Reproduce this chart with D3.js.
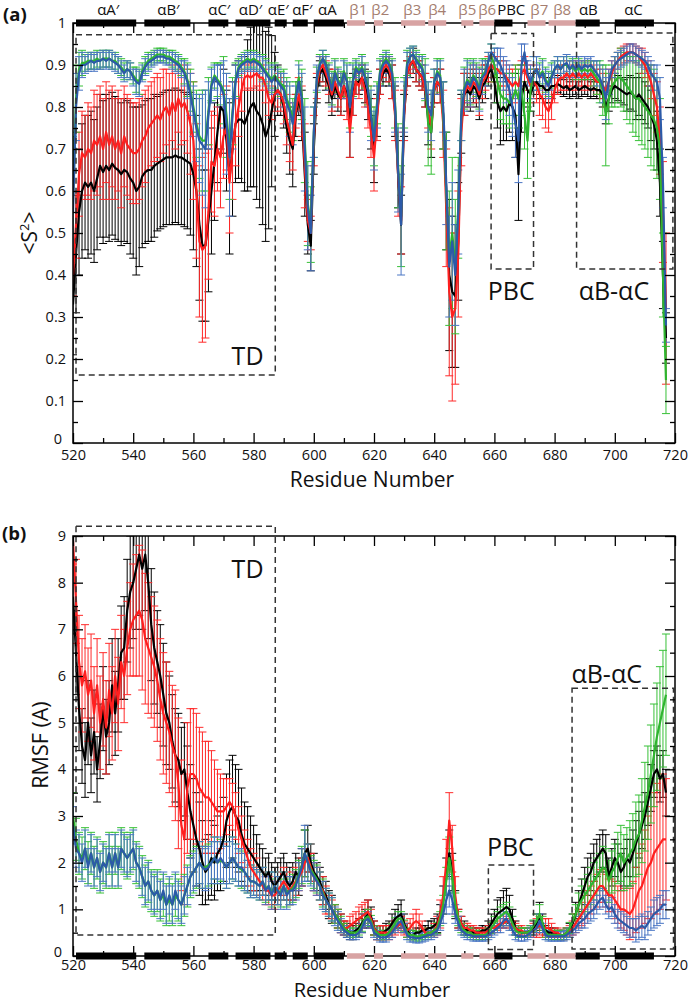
<!DOCTYPE html>
<html><head><meta charset="utf-8">
<script src="https://cdn.jsdelivr.net/npm/d3@7"></script>
<style>body{margin:0;background:#fff}svg{display:block;font-family:'Open Sans',sans-serif}</style>
</head><body><svg id="c" width="693" height="1002"></svg>
<script>
// ---------------- DATA ----------------
const residues = d3.range(520, 718);
const residueTicks = [520,540,560,580,600,620,640,660,680,700,720];
const residueMinorTicks = [530,550,570,590,610,630,650,670,690,710];
const s2Ticks = [0,0.1,0.2,0.3,0.4,0.5,0.6,0.7,0.8,0.9,1];
const s2MinorTicks = [0.05,0.15,0.25,0.35,0.45,0.55,0.65,0.75,0.85,0.95];
const rmsfTicks = [0,1,2,3,4,5,6,7,8,9];
const rmsfMinorTicks = [0.5,1.5,2.5,3.5,4.5,5.5,6.5,7.5,8.5];

// secondary structure
const ssNames = ["αA′","αB′","αC′","αD′","αE′","αF′","αA","β1","β2","β3","β4","β5","β6","PBC","β7","β8","αB","αC"];
const ssStart = [521,543.7,565,574,587,593,600,611,620,629,638,649,655,660,671,678,687,700];
const ssEnd   = [541,559,571.6,585.6,591,598,610,617,623,637,644,653,660,666,677,687,695,713];
const ssType  = ["h","h","h","h","h","h","h","b","b","b","b","b","b","h","b","b","h","h"];
const ssLabelAt = [531.7,551.7,568.6,579,588.2,596.2,604.5,614.8,622.1,632.7,641,651,657.6,665.6,674.9,682.5,691.2,706.2];

// dashed region boxes [residue from, residue to, value low, value high] and label anchors
const boxNames = ["TD","PBC","αB-αC"];
const boxesA = [[521,587.2,0.162,0.972],[658.9,673,0.414,0.975],[687.3,719.3,0.414,0.976]];
const boxLabelA = [[583.3,0.186,"end"],[665.6,0.34,"middle"],[699.7,0.34,"middle"]];
const boxesB = [[521,587.2,0.45,9.21],[658,673,0.14,1.95],[685.8,719.5,0.15,5.74]];
const boxLabelB = [[578,8.1,"middle"],[665.3,2.14,"middle"],[697.3,5.85,"middle"]];

// ---- panel (a): <S2> ----
const s2Black = [
0.33,0.45,0.55,0.60,0.62,0.61,0.62,0.60,0.63,0.66,
0.645,0.66,0.65,0.665,0.655,0.65,0.64,0.65,0.645,0.63,
0.62,0.60,0.61,0.635,0.645,0.65,0.65,0.66,0.665,0.67,
0.675,0.68,0.68,0.68,0.685,0.68,0.68,0.675,0.67,0.665,
0.64,0.60,0.52,0.47,0.47,0.53,0.60,0.67,0.74,0.80,
0.79,0.72,0.63,0.70,0.76,0.77,0.77,0.76,0.78,0.80,
0.81,0.79,0.78,0.76,0.73,0.75,0.79,0.83,0.84,0.83,
0.80,0.75,0.72,0.70,0.78,0.82,0.78,0.64,0.52,0.47,
0.70,0.84,0.88,0.89,0.87,0.85,0.82,0.85,0.83,0.82,
0.85,0.83,0.76,0.83,0.86,0.86,0.87,0.85,0.82,0.76,
0.70,0.78,0.86,0.88,0.89,0.88,0.86,0.79,0.64,0.52,
0.78,0.88,0.90,0.91,0.89,0.88,0.87,0.84,0.77,0.74,
0.84,0.86,0.85,0.78,0.60,0.40,0.36,0.35,0.48,0.76,
0.83,0.84,0.83,0.85,0.84,0.82,0.85,0.86,0.88,0.89,
0.86,0.81,0.79,0.80,0.79,0.81,0.80,0.78,0.64,0.82,
0.86,0.84,0.83,0.85,0.86,0.85,0.85,0.84,0.84,0.85,
0.85,0.855,0.85,0.845,0.85,0.84,0.845,0.85,0.84,0.845,
0.85,0.845,0.84,0.845,0.84,0.84,0.83,0.80,0.82,0.84,
0.85,0.845,0.84,0.835,0.83,0.835,0.83,0.82,0.83,0.82,
0.81,0.80,0.78,0.76,0.72,0.62,0.40,0.25];
const s2BlackErr = [
0.12,0.14,0.15,0.16,0.16,0.17,0.17,0.17,0.17,0.17,
0.17,0.17,0.17,0.17,0.17,0.17,0.17,0.17,0.17,0.18,
0.18,0.20,0.19,0.17,0.17,0.17,0.17,0.17,0.16,0.16,
0.16,0.16,0.16,0.16,0.16,0.16,0.16,0.16,0.16,0.17,
0.18,0.18,0.18,0.18,0.18,0.17,0.15,0.14,0.12,0.10,
0.10,0.12,0.18,0.16,0.14,0.14,0.15,0.16,0.18,0.19,
0.20,0.21,0.22,0.24,0.25,0.24,0.18,0.10,0.06,0.05,
0.05,0.06,0.08,0.09,0.05,0.04,0.06,0.10,0.07,0.06,
0.06,0.03,0.03,0.03,0.03,0.04,0.04,0.03,0.04,0.04,
0.03,0.04,0.08,0.05,0.03,0.03,0.03,0.04,0.05,0.06,
0.08,0.05,0.03,0.03,0.03,0.03,0.04,0.06,0.08,0.07,
0.05,0.03,0.03,0.03,0.03,0.03,0.03,0.04,0.06,0.06,
0.03,0.03,0.04,0.08,0.14,0.18,0.18,0.17,0.14,0.07,
0.05,0.04,0.04,0.04,0.04,0.05,0.04,0.04,0.03,0.03,
0.05,0.06,0.08,0.08,0.07,0.07,0.08,0.10,0.11,0.08,
0.05,0.04,0.04,0.03,0.03,0.03,0.03,0.03,0.03,0.03,
0.02,0.02,0.02,0.02,0.02,0.02,0.02,0.02,0.02,0.02,
0.02,0.02,0.02,0.02,0.02,0.02,0.03,0.04,0.03,0.03,
0.03,0.03,0.03,0.03,0.04,0.04,0.04,0.05,0.05,0.05,
0.05,0.05,0.06,0.06,0.07,0.08,0.08,0.06];
const s2Red = [
0.40,0.52,0.64,0.69,0.68,0.70,0.69,0.72,0.71,0.73,
0.70,0.74,0.71,0.73,0.70,0.72,0.69,0.73,0.71,0.70,
0.69,0.69,0.70,0.72,0.73,0.75,0.76,0.77,0.78,0.77,
0.79,0.80,0.78,0.81,0.79,0.82,0.80,0.81,0.79,0.76,
0.72,0.60,0.48,0.46,0.47,0.55,0.67,0.66,0.70,0.68,
0.73,0.75,0.62,0.70,0.76,0.80,0.84,0.87,0.875,0.87,
0.875,0.88,0.87,0.87,0.85,0.82,0.81,0.83,0.84,0.83,
0.81,0.77,0.74,0.71,0.79,0.83,0.79,0.66,0.53,0.50,
0.72,0.85,0.89,0.90,0.88,0.86,0.83,0.86,0.84,0.82,
0.85,0.82,0.74,0.82,0.86,0.85,0.87,0.84,0.80,0.74,
0.68,0.77,0.86,0.89,0.90,0.89,0.86,0.78,0.64,0.53,
0.78,0.88,0.90,0.91,0.89,0.88,0.87,0.84,0.79,0.75,
0.84,0.86,0.85,0.76,0.56,0.36,0.30,0.32,0.45,0.74,
0.83,0.85,0.84,0.86,0.85,0.83,0.86,0.87,0.89,0.90,
0.89,0.89,0.88,0.88,0.87,0.86,0.85,0.86,0.85,0.88,
0.89,0.87,0.85,0.86,0.85,0.83,0.82,0.80,0.79,0.81,
0.84,0.86,0.87,0.87,0.88,0.87,0.88,0.87,0.88,0.87,
0.88,0.87,0.88,0.87,0.86,0.86,0.85,0.84,0.86,0.88,
0.90,0.91,0.92,0.925,0.93,0.93,0.93,0.925,0.92,0.91,
0.90,0.88,0.86,0.83,0.80,0.72,0.55,0.32];
const s2RedErr = [
0.05,0.08,0.10,0.10,0.10,0.11,0.11,0.12,0.12,0.12,
0.12,0.12,0.13,0.12,0.12,0.12,0.13,0.12,0.12,0.12,
0.12,0.12,0.12,0.11,0.11,0.10,0.10,0.10,0.10,0.10,
0.10,0.09,0.10,0.09,0.09,0.08,0.09,0.09,0.10,0.12,
0.14,0.16,0.18,0.22,0.22,0.16,0.12,0.12,0.10,0.12,
0.10,0.10,0.12,0.12,0.10,0.07,0.05,0.03,0.03,0.03,
0.03,0.03,0.03,0.03,0.04,0.04,0.04,0.04,0.04,0.04,
0.05,0.06,0.07,0.06,0.04,0.04,0.06,0.10,0.05,0.04,
0.06,0.03,0.03,0.02,0.03,0.03,0.04,0.03,0.04,0.04,
0.03,0.05,0.06,0.04,0.03,0.03,0.03,0.04,0.05,0.06,
0.08,0.05,0.03,0.02,0.02,0.03,0.04,0.06,0.10,0.08,
0.06,0.03,0.02,0.02,0.03,0.03,0.03,0.04,0.04,0.05,
0.03,0.03,0.04,0.08,0.14,0.20,0.20,0.18,0.15,0.08,
0.05,0.04,0.04,0.04,0.04,0.05,0.04,0.03,0.03,0.03,
0.03,0.03,0.03,0.03,0.03,0.03,0.04,0.04,0.04,0.03,
0.03,0.03,0.04,0.04,0.04,0.05,0.05,0.05,0.05,0.04,
0.03,0.03,0.03,0.03,0.03,0.03,0.03,0.03,0.03,0.03,
0.03,0.03,0.03,0.03,0.03,0.03,0.03,0.04,0.03,0.03,
0.02,0.02,0.02,0.02,0.02,0.02,0.02,0.02,0.02,0.03,
0.03,0.03,0.04,0.05,0.06,0.08,0.12,0.18];
const s2Green = [
0.58,0.82,0.89,0.905,0.905,0.91,0.91,0.91,0.915,0.91,
0.915,0.915,0.915,0.91,0.91,0.90,0.895,0.885,0.89,0.885,
0.875,0.865,0.86,0.885,0.90,0.91,0.915,0.92,0.925,0.925,
0.925,0.92,0.92,0.915,0.91,0.905,0.895,0.885,0.865,0.84,
0.80,0.76,0.73,0.72,0.72,0.79,0.855,0.875,0.865,0.855,
0.84,0.78,0.70,0.79,0.865,0.895,0.905,0.91,0.915,0.91,
0.915,0.91,0.905,0.895,0.885,0.875,0.865,0.875,0.865,0.855,
0.85,0.82,0.80,0.77,0.83,0.87,0.83,0.72,0.57,0.52,
0.74,0.865,0.905,0.915,0.905,0.875,0.845,0.885,0.865,0.855,
0.885,0.865,0.81,0.865,0.895,0.885,0.895,0.875,0.845,0.79,
0.73,0.81,0.885,0.905,0.915,0.905,0.885,0.81,0.66,0.54,
0.81,0.905,0.92,0.925,0.915,0.905,0.895,0.865,0.76,0.74,
0.86,0.885,0.875,0.78,0.60,0.44,0.50,0.42,0.56,0.78,
0.845,0.865,0.855,0.875,0.865,0.845,0.875,0.885,0.91,0.92,
0.90,0.86,0.83,0.82,0.82,0.81,0.82,0.84,0.82,0.84,
0.78,0.72,0.84,0.88,0.89,0.875,0.885,0.865,0.855,0.875,
0.89,0.90,0.89,0.90,0.90,0.89,0.895,0.885,0.895,0.885,
0.89,0.885,0.89,0.88,0.87,0.86,0.84,0.78,0.82,0.85,
0.86,0.87,0.87,0.86,0.85,0.84,0.83,0.82,0.82,0.81,
0.80,0.79,0.78,0.77,0.75,0.70,0.40,0.15];
const s2GreenErr = [
0.15,0.08,0.04,0.03,0.02,0.02,0.02,0.02,0.02,0.02,
0.02,0.02,0.02,0.02,0.02,0.02,0.02,0.02,0.02,0.02,
0.02,0.03,0.03,0.02,0.02,0.02,0.015,0.015,0.015,0.015,
0.015,0.015,0.015,0.02,0.02,0.02,0.02,0.03,0.04,0.05,
0.06,0.08,0.10,0.12,0.12,0.08,0.04,0.03,0.04,0.05,
0.08,0.10,0.12,0.08,0.04,0.02,0.02,0.02,0.02,0.02,
0.02,0.02,0.02,0.03,0.03,0.03,0.03,0.03,0.03,0.03,
0.04,0.05,0.06,0.05,0.03,0.04,0.06,0.10,0.10,0.09,
0.06,0.03,0.02,0.02,0.02,0.03,0.04,0.03,0.03,0.03,
0.03,0.04,0.06,0.04,0.02,0.02,0.03,0.03,0.04,0.06,
0.07,0.05,0.03,0.02,0.02,0.02,0.03,0.06,0.10,0.12,
0.06,0.03,0.02,0.02,0.02,0.02,0.03,0.05,0.10,0.10,
0.03,0.03,0.04,0.08,0.14,0.16,0.18,0.16,0.12,0.06,
0.05,0.05,0.05,0.04,0.04,0.05,0.04,0.03,0.02,0.03,
0.04,0.05,0.06,0.06,0.06,0.06,0.06,0.06,0.07,0.06,
0.08,0.09,0.05,0.04,0.03,0.03,0.03,0.03,0.03,0.03,
0.02,0.02,0.02,0.02,0.02,0.02,0.02,0.02,0.02,0.02,
0.02,0.02,0.02,0.03,0.04,0.05,0.06,0.12,0.06,0.05,
0.06,0.06,0.07,0.07,0.08,0.08,0.09,0.09,0.10,0.10,
0.10,0.11,0.12,0.12,0.12,0.12,0.10,0.08];
const s2Blue = [
0.55,0.80,0.88,0.90,0.90,0.905,0.91,0.905,0.91,0.91,
0.915,0.91,0.915,0.91,0.905,0.90,0.89,0.88,0.89,0.885,
0.87,0.86,0.855,0.88,0.895,0.905,0.91,0.915,0.92,0.92,
0.92,0.915,0.915,0.91,0.905,0.90,0.89,0.88,0.86,0.83,
0.79,0.75,0.72,0.71,0.70,0.78,0.85,0.87,0.86,0.85,
0.83,0.76,0.68,0.78,0.86,0.89,0.90,0.905,0.91,0.905,
0.91,0.905,0.90,0.89,0.88,0.87,0.86,0.87,0.86,0.85,
0.84,0.81,0.79,0.76,0.82,0.86,0.82,0.70,0.56,0.50,
0.74,0.87,0.90,0.915,0.90,0.87,0.84,0.88,0.86,0.85,
0.88,0.86,0.80,0.86,0.89,0.88,0.89,0.87,0.84,0.78,
0.72,0.80,0.88,0.90,0.91,0.90,0.88,0.80,0.65,0.52,
0.80,0.90,0.92,0.925,0.91,0.90,0.89,0.86,0.80,0.78,
0.86,0.88,0.87,0.80,0.62,0.42,0.48,0.40,0.55,0.78,
0.84,0.86,0.85,0.87,0.86,0.84,0.87,0.88,0.91,0.93,
0.92,0.91,0.90,0.88,0.86,0.84,0.80,0.76,0.72,0.90,
0.93,0.88,0.86,0.88,0.89,0.87,0.88,0.86,0.85,0.87,
0.89,0.90,0.89,0.90,0.905,0.89,0.90,0.89,0.90,0.89,
0.90,0.895,0.90,0.89,0.88,0.87,0.85,0.82,0.86,0.89,
0.90,0.91,0.915,0.92,0.925,0.93,0.93,0.925,0.92,0.915,
0.91,0.90,0.88,0.87,0.86,0.82,0.62,0.28];
const s2BlueErr = [
0.15,0.08,0.04,0.03,0.02,0.02,0.02,0.02,0.02,0.02,
0.02,0.02,0.02,0.02,0.02,0.02,0.02,0.02,0.02,0.02,
0.02,0.03,0.03,0.02,0.02,0.02,0.015,0.015,0.015,0.015,
0.015,0.015,0.015,0.02,0.02,0.02,0.02,0.03,0.04,0.05,
0.06,0.08,0.10,0.12,0.14,0.08,0.04,0.03,0.04,0.05,
0.08,0.12,0.14,0.08,0.04,0.02,0.02,0.02,0.02,0.02,
0.02,0.02,0.02,0.03,0.03,0.03,0.03,0.03,0.03,0.03,
0.04,0.05,0.06,0.05,0.03,0.04,0.06,0.10,0.10,0.09,
0.06,0.03,0.02,0.02,0.02,0.03,0.04,0.03,0.03,0.03,
0.03,0.04,0.06,0.04,0.02,0.02,0.03,0.03,0.04,0.06,
0.07,0.05,0.03,0.02,0.02,0.02,0.03,0.06,0.10,0.12,
0.06,0.03,0.02,0.02,0.02,0.02,0.03,0.04,0.06,0.06,
0.03,0.03,0.04,0.06,0.10,0.12,0.14,0.12,0.10,0.06,
0.05,0.05,0.05,0.04,0.04,0.05,0.04,0.03,0.02,0.02,
0.02,0.03,0.04,0.04,0.05,0.06,0.07,0.08,0.10,0.05,
0.02,0.03,0.04,0.04,0.03,0.03,0.03,0.03,0.03,0.03,
0.02,0.02,0.02,0.02,0.02,0.02,0.02,0.02,0.02,0.02,
0.02,0.02,0.02,0.02,0.03,0.03,0.04,0.05,0.03,0.02,
0.02,0.02,0.02,0.02,0.02,0.02,0.02,0.02,0.02,0.02,
0.02,0.02,0.03,0.03,0.04,0.05,0.06,0.04];

// ---- panel (b): RMSF ----
const rmsfBlack = [
7.7,6.5,5.3,4.5,4.2,5.0,4.3,4.8,4.0,4.6,
5.3,4.7,5.0,5.8,5.2,5.8,6.5,6.6,7.4,7.8,
8.0,8.3,8.6,8.3,8.6,8.0,7.1,6.6,6.3,6.0,
5.6,5.2,5.0,4.6,4.3,4.2,3.9,4.0,3.5,3.1,
2.8,2.5,2.3,2.0,1.8,1.9,2.1,2.0,2.2,2.3,
2.5,2.9,3.1,3.2,3.0,2.9,2.6,2.4,2.3,2.2,
2.1,2.0,1.9,1.8,1.7,1.8,1.6,1.5,1.6,1.7,
1.8,1.6,1.5,1.6,1.8,1.7,1.9,2.2,2.3,2.0,
1.8,1.7,1.6,1.4,1.3,1.1,1.0,0.9,0.8,0.7,
0.6,0.55,0.5,0.5,0.55,0.6,0.7,0.8,0.9,0.85,
0.6,0.5,0.5,0.5,0.55,0.6,0.7,0.8,0.85,0.9,
0.7,0.55,0.45,0.45,0.5,0.5,0.55,0.55,0.6,0.6,
0.65,0.7,0.9,1.2,1.7,2.2,1.8,1.1,0.8,0.7,
0.6,0.55,0.55,0.5,0.5,0.5,0.55,0.55,0.6,0.7,
0.8,0.9,0.95,1.0,1.05,1.0,0.8,0.6,0.55,0.5,
0.5,0.5,0.55,0.6,0.7,0.85,0.7,0.55,0.5,0.5,
0.5,0.45,0.45,0.45,0.5,0.55,0.7,0.9,1.1,1.3,
1.5,1.7,1.8,2.0,2.1,2.2,2.3,2.2,1.7,1.9,
2.1,2.0,1.8,1.9,2.1,2.0,2.2,2.4,2.6,2.8,
3.0,3.3,3.6,3.9,4.0,3.8,3.9,3.5];
const rmsfBlackErr = [
0.8,0.9,0.9,0.8,0.8,0.9,0.8,0.9,0.7,0.8,
0.9,0.8,0.9,1.0,0.9,1.0,1.0,1.1,1.1,1.2,
1.2,1.3,1.3,1.3,1.2,1.2,1.2,1.2,1.1,1.1,
1.1,1.1,1.0,1.0,1.0,1.0,1.0,1.0,1.0,1.0,
1.0,1.0,1.0,0.9,0.7,0.7,0.8,0.8,0.8,0.9,
0.9,1.0,1.1,1.1,1.1,1.1,1.0,0.9,0.9,0.8,
0.7,0.6,0.5,0.5,0.4,0.4,0.4,0.4,0.4,0.4,
0.4,0.4,0.4,0.4,0.4,0.4,0.4,0.5,0.5,0.4,
0.4,0.3,0.3,0.3,0.3,0.3,0.3,0.2,0.2,0.2,
0.15,0.15,0.15,0.15,0.15,0.2,0.2,0.2,0.3,0.2,
0.15,0.15,0.15,0.15,0.15,0.15,0.2,0.2,0.25,0.3,
0.2,0.15,0.1,0.1,0.1,0.1,0.1,0.1,0.15,0.15,
0.15,0.2,0.2,0.3,0.4,0.5,0.4,0.3,0.2,0.15,
0.15,0.1,0.1,0.1,0.1,0.1,0.1,0.1,0.15,0.2,
0.2,0.3,0.3,0.4,0.4,0.3,0.2,0.15,0.1,0.1,
0.1,0.1,0.1,0.15,0.2,0.3,0.2,0.1,0.1,0.1,
0.1,0.1,0.1,0.1,0.1,0.15,0.2,0.25,0.3,0.35,
0.4,0.4,0.4,0.4,0.4,0.4,0.4,0.4,0.4,0.4,
0.4,0.4,0.4,0.4,0.4,0.5,0.5,0.5,0.5,0.5,
0.5,0.5,0.5,0.5,0.5,0.5,0.5,0.5];
const rmsfRed = [
8.9,7.6,6.3,5.8,6.1,5.6,5.9,5.2,5.8,5.0,
5.5,4.9,5.7,5.2,6.0,5.4,6.3,6.0,6.6,7.0,
7.2,7.3,7.4,7.2,6.8,6.6,6.4,6.2,5.9,5.5,
5.2,5.0,4.8,4.5,4.3,3.7,2.8,2.5,3.6,3.9,
3.9,3.8,3.6,3.5,3.4,3.4,3.3,3.2,3.1,3.1,
3.1,3.2,3.3,3.2,3.0,2.7,2.5,2.3,2.1,1.9,
1.8,1.7,1.6,1.5,1.4,1.4,1.3,1.3,1.4,1.5,
1.6,1.5,1.4,1.5,1.6,1.7,1.8,2.0,2.1,1.9,
1.7,1.6,1.5,1.4,1.2,1.1,1.0,0.9,0.8,0.7,
0.6,0.6,0.65,0.7,0.75,0.8,0.85,0.9,0.95,0.8,
0.6,0.5,0.5,0.5,0.5,0.5,0.55,0.6,0.65,0.7,
0.6,0.55,0.6,0.7,0.75,0.7,0.6,0.5,0.5,0.5,
0.55,0.65,0.9,1.3,2.0,2.9,2.3,1.3,0.8,0.7,
0.6,0.6,0.55,0.55,0.5,0.5,0.5,0.5,0.55,0.6,
0.6,0.65,0.7,0.7,0.75,0.7,0.65,0.6,0.55,0.55,
0.5,0.5,0.5,0.55,0.6,0.65,0.6,0.6,0.6,0.55,
0.5,0.5,0.45,0.45,0.5,0.55,0.6,0.7,0.8,0.9,
1.0,1.1,1.2,1.3,1.4,1.5,1.5,1.4,1.3,1.3,
1.2,1.1,1.0,1.0,0.95,0.9,1.0,1.2,1.4,1.5,
1.7,1.9,2.0,2.2,2.3,2.4,2.5,2.5];
const rmsfRedErr = [
0.5,0.9,1.0,1.0,1.0,1.0,1.0,1.0,1.0,1.0,
1.0,1.0,1.0,1.0,1.0,1.0,1.0,1.0,1.0,1.0,
1.2,1.3,1.4,1.5,1.4,1.4,1.3,1.3,1.3,1.3,
1.3,1.3,1.3,1.3,1.4,1.4,1.4,1.4,1.4,1.4,
1.4,1.4,1.3,1.3,1.2,1.2,1.1,1.0,0.9,0.8,
0.7,0.6,0.5,0.5,0.5,0.5,0.5,0.4,0.4,0.4,
0.4,0.4,0.3,0.3,0.3,0.3,0.3,0.3,0.3,0.3,
0.3,0.3,0.3,0.3,0.3,0.3,0.3,0.3,0.3,0.3,
0.3,0.3,0.3,0.3,0.3,0.2,0.2,0.2,0.2,0.2,
0.15,0.15,0.2,0.2,0.2,0.25,0.25,0.25,0.25,0.2,
0.15,0.15,0.15,0.15,0.15,0.15,0.15,0.15,0.15,0.15,
0.15,0.15,0.2,0.2,0.25,0.2,0.15,0.1,0.1,0.1,
0.15,0.2,0.3,0.4,0.5,0.6,0.5,0.4,0.2,0.15,
0.1,0.1,0.1,0.1,0.1,0.1,0.1,0.1,0.1,0.1,
0.1,0.1,0.1,0.1,0.1,0.1,0.1,0.1,0.1,0.1,
0.1,0.1,0.1,0.15,0.2,0.2,0.2,0.2,0.2,0.15,
0.1,0.1,0.1,0.1,0.1,0.1,0.15,0.2,0.2,0.25,
0.3,0.3,0.3,0.3,0.35,0.35,0.35,0.35,0.35,0.35,
0.4,0.4,0.4,0.45,0.5,0.55,0.6,0.7,0.8,0.9,
1.0,1.1,1.2,1.3,1.4,1.4,1.4,1.3];
const rmsfGreen = [
3.0,2.5,2.2,2.1,2.3,2.0,2.2,1.9,2.1,1.8,
2.0,1.9,2.2,1.9,2.2,1.9,2.3,2.2,2.1,2.2,
2.3,2.0,1.9,1.7,1.5,1.6,1.4,1.3,1.4,1.2,
1.3,1.1,1.2,1.1,1.3,1.2,1.1,1.3,1.5,1.7,
1.8,1.9,2.0,1.9,1.9,1.95,2.0,2.1,2.0,2.05,
2.0,1.9,2.0,2.1,2.0,1.9,1.85,1.8,1.7,1.6,
1.6,1.55,1.5,1.6,1.45,1.5,1.35,1.5,1.4,1.35,
1.5,1.35,1.4,1.45,1.55,1.75,1.95,2.2,2.0,1.85,
1.75,1.65,1.5,1.35,1.2,1.1,1.0,0.9,0.8,0.7,
0.6,0.55,0.5,0.5,0.5,0.55,0.65,0.8,0.85,0.75,
0.55,0.5,0.45,0.45,0.45,0.5,0.6,0.7,0.8,0.8,
0.65,0.5,0.45,0.45,0.42,0.42,0.45,0.45,0.5,0.5,
0.55,0.6,0.8,1.1,1.6,2.1,1.7,1.1,0.8,0.6,
0.55,0.5,0.5,0.45,0.45,0.45,0.45,0.45,0.5,0.6,
0.7,0.8,0.85,0.9,0.95,0.85,0.7,0.55,0.5,0.5,
0.5,0.5,0.55,0.65,0.75,0.9,0.7,0.5,0.45,0.45,
0.45,0.45,0.45,0.45,0.5,0.6,0.75,0.9,1.1,1.2,
1.3,1.4,1.5,1.6,1.7,1.8,1.9,1.85,1.6,1.8,
1.9,2.1,2.2,2.0,2.1,2.2,2.3,2.5,2.6,2.9,
3.2,3.5,3.9,4.3,4.7,5.0,5.3,5.6];
const rmsfGreenErr = [
0.5,0.45,0.45,0.45,0.45,0.45,0.45,0.45,0.45,0.45,
0.45,0.45,0.45,0.45,0.45,0.45,0.45,0.45,0.45,0.45,
0.45,0.45,0.45,0.45,0.45,0.45,0.45,0.45,0.45,0.45,
0.45,0.45,0.45,0.45,0.45,0.45,0.45,0.45,0.45,0.45,
0.45,0.45,0.45,0.45,0.45,0.45,0.45,0.45,0.45,0.45,
0.45,0.45,0.45,0.45,0.4,0.4,0.4,0.4,0.35,0.35,
0.3,0.3,0.3,0.3,0.3,0.3,0.3,0.3,0.3,0.3,
0.3,0.3,0.3,0.3,0.3,0.3,0.4,0.5,0.4,0.3,
0.3,0.3,0.3,0.3,0.25,0.25,0.25,0.2,0.2,0.15,
0.1,0.1,0.1,0.1,0.1,0.1,0.12,0.15,0.15,0.12,
0.1,0.1,0.1,0.1,0.1,0.1,0.1,0.12,0.15,0.15,
0.12,0.1,0.1,0.1,0.1,0.1,0.1,0.1,0.1,0.1,
0.1,0.12,0.15,0.2,0.3,0.45,0.35,0.25,0.15,0.1,
0.1,0.1,0.1,0.1,0.1,0.1,0.1,0.1,0.1,0.12,
0.15,0.15,0.2,0.2,0.2,0.2,0.15,0.1,0.1,0.1,
0.1,0.1,0.1,0.12,0.15,0.2,0.15,0.1,0.1,0.1,
0.1,0.1,0.1,0.1,0.1,0.12,0.15,0.2,0.25,0.3,
0.35,0.35,0.4,0.4,0.4,0.4,0.45,0.45,0.45,0.45,
0.5,0.55,0.6,0.6,0.65,0.7,0.75,0.8,0.85,0.9,
0.95,1.0,1.05,1.1,1.15,1.2,1.25,1.3];
const rmsfBlue = [
2.8,2.3,2.2,2.0,2.3,1.9,2.2,1.9,2.1,1.8,
2.0,1.9,2.2,1.9,2.2,1.9,2.3,2.2,2.1,2.2,
2.3,2.0,1.9,1.7,1.5,1.6,1.4,1.3,1.4,1.2,
1.4,1.1,1.3,1.1,1.4,1.2,1.1,1.3,1.5,1.7,
1.8,1.9,2.0,1.9,1.85,1.9,2.0,2.1,2.0,2.1,
2.0,1.9,2.0,2.1,2.0,1.9,1.9,1.8,1.7,1.6,
1.6,1.55,1.5,1.6,1.4,1.5,1.3,1.5,1.4,1.3,
1.5,1.3,1.4,1.4,1.5,1.7,1.9,2.2,2.0,1.8,
1.7,1.6,1.5,1.3,1.2,1.1,1.0,0.85,0.75,0.65,
0.55,0.5,0.45,0.45,0.45,0.5,0.6,0.75,0.8,0.7,
0.5,0.45,0.4,0.4,0.4,0.45,0.5,0.6,0.7,0.75,
0.6,0.45,0.4,0.4,0.38,0.38,0.4,0.42,0.45,0.45,
0.5,0.55,0.7,0.9,1.2,1.4,1.2,0.9,0.7,0.55,
0.5,0.45,0.45,0.42,0.42,0.42,0.42,0.42,0.45,0.5,
0.55,0.6,0.65,0.75,0.8,0.7,0.55,0.45,0.42,0.42,
0.42,0.45,0.5,0.55,0.6,0.75,0.6,0.45,0.42,0.42,
0.42,0.42,0.42,0.42,0.45,0.5,0.55,0.6,0.7,0.75,
0.8,0.9,0.95,1.0,1.1,1.2,1.25,1.1,1.0,1.05,
0.9,0.8,0.75,0.7,0.65,0.6,0.6,0.55,0.6,0.65,
0.6,0.7,0.8,0.9,0.95,1.0,1.1,1.1];
const rmsfBlueErr = [
0.4,0.4,0.4,0.4,0.4,0.4,0.4,0.4,0.4,0.4,
0.4,0.4,0.4,0.4,0.4,0.4,0.4,0.4,0.4,0.4,
0.4,0.4,0.4,0.4,0.4,0.4,0.4,0.4,0.4,0.4,
0.4,0.4,0.4,0.4,0.4,0.4,0.4,0.4,0.4,0.4,
0.4,0.4,0.45,0.45,0.45,0.45,0.45,0.45,0.45,0.45,
0.45,0.45,0.45,0.45,0.4,0.4,0.4,0.4,0.35,0.35,
0.3,0.3,0.3,0.3,0.3,0.3,0.3,0.3,0.3,0.3,
0.3,0.3,0.3,0.3,0.3,0.3,0.4,0.6,0.4,0.3,
0.3,0.3,0.3,0.3,0.25,0.25,0.25,0.2,0.2,0.15,
0.1,0.1,0.1,0.1,0.1,0.1,0.1,0.15,0.15,0.1,
0.1,0.1,0.1,0.1,0.1,0.1,0.1,0.1,0.15,0.15,
0.1,0.1,0.1,0.1,0.1,0.1,0.1,0.1,0.1,0.1,
0.1,0.1,0.15,0.2,0.3,0.35,0.3,0.2,0.15,0.1,
0.1,0.1,0.1,0.1,0.1,0.1,0.1,0.1,0.1,0.1,
0.1,0.1,0.15,0.15,0.15,0.15,0.1,0.1,0.1,0.1,
0.1,0.1,0.1,0.1,0.1,0.15,0.1,0.1,0.1,0.1,
0.1,0.1,0.1,0.1,0.1,0.1,0.1,0.1,0.15,0.15,
0.2,0.2,0.2,0.2,0.2,0.2,0.2,0.2,0.2,0.2,
0.2,0.2,0.2,0.2,0.2,0.2,0.2,0.25,0.25,0.25,
0.25,0.25,0.25,0.3,0.3,0.3,0.3,0.3];

// ---------------- DRAWING ----------------
const svg = d3.select("#c");
const colors = {black:"#000000", red:"#ff1f1f", green:"#2fb52f", blue:"#2c5aa8"};
const errColors = {black:"#000000", red:"#ff2a2a", green:"#38c038", blue:"#4a76c4"};
const font = "'Open Sans', sans-serif";

function drawPanel(opt){
  const x = d3.scaleLinear().domain([520,720]).range([73,675]);
  const y = d3.scaleLinear().domain(opt.yDomain).range(opt.yRange);
  const g = svg.append("g");
  const clipId = "clip" + opt.id;
  svg.append("defs").append("clipPath").attr("id", clipId)
    .append("rect").attr("x",73).attr("y",opt.yRange[1]).attr("width",602).attr("height",opt.yRange[0]-opt.yRange[1]);

  const plot = g.append("g").attr("clip-path", `url(#${clipId})`);
  opt.series.forEach(s=>{
    const data = residues.map((r,i)=>({r, v:s.v[i], e:s.e[i]})).filter(d=>d.v!=null && d.e!=null);
    let p = "";
    const cap = 4;
    data.forEach(d=>{
      const X = x(d.r), Y0 = y(d.v-d.e), Y1 = y(d.v+d.e);
      p += `M${X},${Y0}V${Y1}M${X-cap},${Y0}H${X+cap}M${X-cap},${Y1}H${X+cap}`;
    });
    plot.append("path").attr("d",p).attr("fill","none").attr("stroke",errColors[s.c]).attr("stroke-width",1);
  });
  opt.series.forEach(s=>{
    const data = residues.map((r,i)=>({r, v:s.v[i]})).filter(d=>d.v!=null);
    plot.append("path").datum(data)
      .attr("d", d3.line().x(d=>x(d.r)).y(d=>y(d.v)))
      .attr("fill","none").attr("stroke",colors[s.c]).attr("stroke-width",2.2).attr("stroke-linejoin","round");
  });

  // dashed boxes
  opt.boxes.forEach((b,i)=>{
    g.append("rect").attr("x",x(b[0])).attr("y",y(b[3])).attr("width",x(b[1])-x(b[0])).attr("height",y(b[2])-y(b[3]))
      .attr("fill","none").attr("stroke","#333").attr("stroke-width",1.5).attr("stroke-dasharray","6,4");
    const L = opt.boxLabels[i];
    g.append("text").attr("x",x(L[0])).attr("y",y(L[1])).attr("text-anchor",L[2])
      .attr("font-family",font).attr("font-size",25).attr("fill","#111").text(boxNames[i]);
  });

  // axes
  const axStyle = sel => { sel.select(".domain").remove(); sel.selectAll("line").attr("stroke","#000").attr("stroke-width",1.3); sel.selectAll("text").attr("font-family",font).attr("font-size",14.5).attr("fill","#111"); };
  g.append("g").attr("transform",`translate(0,${opt.yRange[0]})`)
    .call(d3.axisBottom(x).tickValues(residueTicks).tickSize(-10).tickPadding(opt.xPad).tickFormat(d3.format("d"))).call(axStyle);
  g.append("g").attr("transform",`translate(0,${opt.yRange[0]})`)
    .call(d3.axisBottom(x).tickValues(residueMinorTicks).tickSize(-5).tickFormat("")).call(axStyle);
  g.append("g").attr("transform",`translate(0,${opt.yRange[1]})`)
    .call(d3.axisTop(x).tickValues(residueTicks).tickSize(-10).tickFormat("")).call(axStyle);
  g.append("g").attr("transform",`translate(0,${opt.yRange[1]})`)
    .call(d3.axisTop(x).tickValues(residueMinorTicks).tickSize(-5).tickFormat("")).call(axStyle);
  const yAx = g.append("g").attr("transform",`translate(73,0)`)
    .call(d3.axisLeft(y).tickValues(opt.yTicks).tickSize(-10).tickPadding(7).tickFormat(d3.format("~g"))).call(axStyle);
  // keep the corner "0" clear of the first residue label
  yAx.selectAll(".tick").filter(d=>d===0).select("text").attr("x",-11).attr("dy","0.05em");
  g.append("g").attr("transform",`translate(73,0)`)
    .call(d3.axisLeft(y).tickValues(opt.yMinor).tickSize(-5).tickFormat("")).call(axStyle);
  g.append("g").attr("transform",`translate(675,0)`)
    .call(d3.axisRight(y).tickValues(opt.yTicks).tickSize(-10).tickFormat("")).call(axStyle);
  g.append("g").attr("transform",`translate(675,0)`)
    .call(d3.axisRight(y).tickValues(opt.yMinor).tickSize(-5).tickFormat("")).call(axStyle);
  // frame
  g.append("rect").attr("x",73).attr("y",opt.yRange[1]).attr("width",602).attr("height",opt.yRange[0]-opt.yRange[1])
    .attr("fill","none").attr("stroke","#000").attr("stroke-width",1.5);

  // secondary structure bars
  const ssY = opt.ssAt === "top" ? opt.yRange[1] : opt.yRange[0];
  ssNames.forEach((n,i)=>{
    const h = ssType[i]==="h" ? 7 : 5.5;
    g.append("rect").attr("x",x(ssStart[i])).attr("y",ssY-h/2).attr("width",x(ssEnd[i])-x(ssStart[i])).attr("height",h)
      .attr("fill", ssType[i]==="h" ? "#000" : "#d8a3a3");
    if (opt.ssAt === "top") {
      g.append("text").attr("x",x(ssLabelAt[i])).attr("y",14.5).attr("text-anchor","middle")
        .attr("font-family",font).attr("font-size",15).attr("fill", ssType[i]==="h" ? "#111" : "#a57e70").text(n);
    }
  });

  // x axis title
  g.append("text").attr("x",372).attr("y",opt.xTitleY).attr("text-anchor","middle")
    .attr("font-family",font).attr("font-size",opt.xTitleSize).attr("fill","#111").text("Residue Number");
  return {x,y,g};
}

// Panel a
drawPanel({id:"a", yDomain:[0,1], yRange:[443,23], yTicks:s2Ticks, yMinor:s2MinorTicks,
  series:[{c:"black",v:s2Black,e:s2BlackErr},{c:"red",v:s2Red,e:s2RedErr},{c:"green",v:s2Green,e:s2GreenErr},{c:"blue",v:s2Blue,e:s2BlueErr}],
  boxes:boxesA, boxLabels:boxLabelA, ssAt:"top", xTitleY:487, xTitleSize:21, xPad:7});
// Panel b
drawPanel({id:"b", yDomain:[0,9], yRange:[956,536], yTicks:rmsfTicks, yMinor:rmsfMinorTicks,
  series:[{c:"black",v:rmsfBlack,e:rmsfBlackErr},{c:"red",v:rmsfRed,e:rmsfRedErr},{c:"green",v:rmsfGreen,e:rmsfGreenErr},{c:"blue",v:rmsfBlue,e:rmsfBlueErr}],
  boxes:boxesB, boxLabels:boxLabelB, ssAt:"bottom", xTitleY:997, xTitleSize:20, xPad:4});

// y titles
const yt1 = svg.append("text").attr("transform","translate(37,233) rotate(-90)").attr("text-anchor","middle")
  .attr("font-family",font).attr("font-size",21).attr("fill","#111");
yt1.append("tspan").text("<S");
yt1.append("tspan").attr("font-size",13).attr("dy",-8).text("2");
yt1.append("tspan").attr("dy",8).text(">");
svg.append("text").attr("transform","translate(48,745) rotate(-90)").attr("text-anchor","middle")
  .attr("font-family",font).attr("font-size",21.5).attr("fill","#111").text("RMSF (A)");

// panel letters
svg.append("text").attr("x",3).attr("y",20.5).attr("font-family",font).attr("font-weight","bold").attr("font-size",18.5).attr("fill","#111").text("(a)");
svg.append("text").attr("x",2).attr("y",540).attr("font-family",font).attr("font-weight","bold").attr("font-size",18.5).attr("fill","#111").text("(b)");
</script>
</body></html>
